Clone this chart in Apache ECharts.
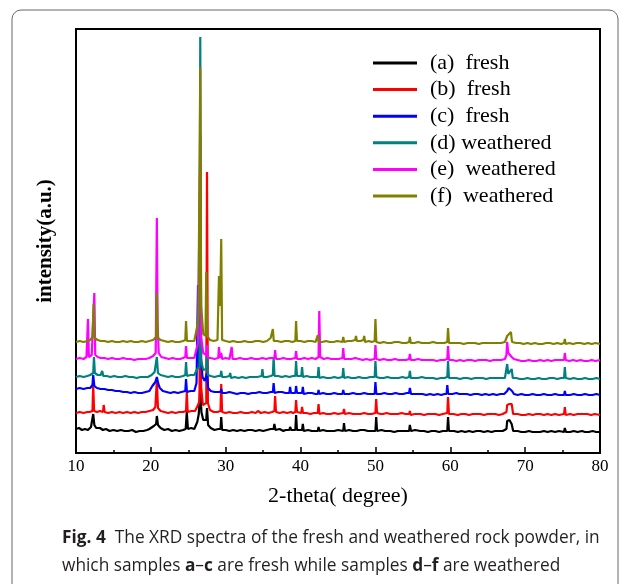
<!DOCTYPE html>
<html>
<head>
<meta charset="utf-8">
<script src="https://cdn.jsdelivr.net/npm/echarts@6/dist/echarts.min.js"></script>
<style>
  html, body { margin: 0; padding: 0; background: #fff; }
  #chart { width: 630px; height: 584px; }
</style>
</head>
<body>
<div id="chart"></div>
<script>
// sample names as shown in the legend
var names = ['(a)  fresh', '(b)  fresh', '(c)  fresh', '(d) weathered', '(e)  weathered', '(f)  weathered'];
var colors = ['#000000', '#ff0000', '#0000ff', '#008080', '#ff00ff', '#808000'];
// vertical shift of each trace (stacked spectra)
var offsets = [19, 36, 56, 72, 90, 107];
var xTicks = [10, 20, 30, 40, 50, 60, 70, 80];

// [2-theta, intensity]
var sampleA = [[10,5],[10.4,6],[10.8,4],[11.2,5],[11.6,4],[12.0,7],[12.2,9],[12.3,20],[12.45,9],[12.7,6],[13.2,6],[13.6,4],[14,5],[14.5,3],[15,4],[15.5,3],[16,4],[16.5,3],[17,3],[17.5,4],[18,2],[18.5,3],[19,3],[19.5,4],[19.8,5],[20.4,8],[20.7,10],[20.8,18],[20.95,9],[21.3,6],[21.8,4],[22.3,5],[22.8,3],[23.3,4],[23.8,3],[24.3,4],[24.65,5],[24.8,22],[24.95,5],[25.4,6],[25.8,5],[26.2,12],[26.4,20],[26.6,48],[26.75,22],[27.0,14],[27.2,12],[27.4,14],[27.5,26],[27.65,9],[28.0,6],[28.5,4],[29.0,5],[29.3,5],[29.4,17],[29.52,4],[30,4],[30.5,3],[31,4],[31.5,3],[32,4],[32.5,3],[33,4],[33.5,4],[34,3],[34.5,4],[35,3],[35.5,4],[36.0,5],[36.4,5],[36.5,10],[36.65,4],[37.2,5],[37.7,3],[38.0,4],[38.5,4],[38.6,7],[38.75,4],[39.3,4],[39.4,19],[39.52,4],[40.2,4],[40.3,10],[40.42,3],[41,4],[41.5,3],[42,3],[42.3,3],[42.4,7],[42.52,3],[43,4],[43.5,3],[44,3],[44.5,3],[45,4],[45.7,3],[45.8,11],[45.92,3],[46.5,4],[47,3],[47.5,3],[48,4],[48.5,4],[49,3],[49.5,3],[50.0,3],[50.1,17],[50.22,3],[50.8,4],[51.3,3],[52,3],[52.5,2],[53,3],[53.5,3],[54,3],[54.5,3],[54.6,9],[54.75,3],[55.3,4],[56,3],[56.5,3],[57,2],[57.5,3],[58,3],[58.5,2],[59,3],[59.6,3],[59.7,17],[59.82,3],[60.5,3],[61,2],[61.5,3],[62,2],[62.5,3],[63,2],[63.5,3],[64,3],[64.5,2],[65,3],[65.5,2],[66,3],[66.5,3],[67,3],[67.5,5],[67.6,13],[67.9,14],[68.2,10],[68.4,3],[69,3],[69.5,2],[70,2],[70.5,3],[71,2],[71.5,2],[72,2],[72.5,3],[73,2],[73.5,3],[74,2],[74.5,3],[75.2,2],[75.3,6],[75.45,2],[76,2],[76.5,3],[77,2],[77.6,3],[78,2],[78.5,2],[79,3],[79.5,2],[80,2]];
var sampleB = [[10,4],[10.5,5],[11,4],[11.5,5],[11.8,5],[12.2,6],[12.3,32],[12.42,6],[12.8,5],[13.2,6],[13.6,5],[13.7,12],[13.82,5],[14.3,4],[14.8,5],[15.3,4],[15.8,5],[16.3,4],[16.8,5],[17.3,4],[17.8,5],[18.3,4],[18.8,5],[19.3,5],[19.8,6],[20.3,7],[20.6,10],[20.8,37],[20.95,9],[21.3,6],[21.8,5],[22.3,4],[22.8,5],[23.3,4],[23.8,5],[24.3,5],[24.7,6],[24.8,25],[24.92,5],[25.4,6],[25.9,6],[26.3,12],[26.5,16],[26.6,282],[26.72,30],[26.95,12],[27.2,10],[27.4,14],[27.5,245],[27.62,14],[27.9,7],[28.4,5],[28.9,5],[29.3,6],[29.4,33],[29.52,5],[30,4],[30.5,5],[31,4],[31.5,4],[32,5],[32.5,4],[33,4],[33.5,5],[34,4],[34.3,6],[34.7,4],[35.2,5],[35.7,4],[36.2,5],[36.5,6],[36.6,21],[36.72,5],[37.2,4],[37.7,5],[38.2,4],[38.7,5],[38.8,7],[39.0,4],[39.3,5],[39.4,17],[39.52,5],[40.1,4],[40.2,10],[40.32,4],[40.8,4],[41.3,3],[41.8,4],[42.3,4],[42.4,13],[42.52,3],[43,4],[43.5,3],[44,3],[44.5,4],[45,3],[45.7,4],[45.8,8],[45.92,3],[46.5,4],[47,3],[47.5,3],[48,3],[48.5,4],[49,3],[49.5,3],[50.0,4],[50.1,18],[50.22,4],[50.7,3],[51,3],[51.5,4],[52,3],[52.5,3],[53,3],[53.5,4],[54,3],[54.5,3],[54.6,6],[54.72,2],[55.2,3],[55.7,3],[56,3],[56.5,2],[57,3],[57.5,3],[58,3],[58.5,2],[59,3],[59.6,4],[59.7,20],[59.82,3],[60.4,3],[61,2],[61.5,3],[62,3],[62.5,2],[63,3],[63.5,3],[64,3],[64.5,2],[65,3],[65.5,3],[66,3],[66.5,2],[67,3],[67.5,5],[67.6,12],[67.9,13],[68.2,13],[68.4,3],[69,3],[69.5,2],[70,2],[70.5,3],[71,2],[71.5,3],[72,3],[72.5,2],[73,3],[73.5,2],[74,3],[74.5,2],[75.2,3],[75.3,10],[75.42,2],[76,3],[76.5,2],[77,3],[77.5,3],[77.6,5],[77.72,2],[78.3,3],[78.8,2],[79.3,3],[80,2]];
var sampleC = [[10,8],[10.5,9],[11,8],[11.5,9],[11.9,9],[12.2,12],[12.3,22],[12.45,11],[12.8,9],[13.3,8],[13.8,8],[14.3,7],[14.8,7],[15.3,6],[15.8,6],[16.3,5],[16.8,5],[17.3,4],[17.8,5],[18.3,4],[18.8,4],[19.3,5],[19.8,6],[20.2,11],[20.4,13],[20.6,15],[20.8,20],[21.0,13],[21.2,9],[21.6,6],[22.1,5],[22.6,4],[23.1,5],[23.6,4],[24.1,5],[24.6,6],[24.7,18],[24.82,5],[25.3,6],[25.8,6],[26.1,14],[26.3,112],[26.45,30],[26.7,38],[26.9,20],[27.2,16],[27.5,24],[27.65,9],[28.0,6],[28.5,5],[29.0,5],[29.3,5],[29.4,8],[29.52,4],[30,4],[30.5,5],[31,4],[31.5,3],[32,4],[32.5,4],[33,3],[33.5,4],[34,4],[34.5,5],[35,4],[35.5,4],[36,5],[36.3,5],[36.4,14],[36.52,4],[37,5],[37.5,5],[38,4],[38.5,4],[38.6,10],[38.72,4],[39.3,4],[39.4,11],[39.52,4],[40.2,4],[40.3,10],[40.42,3],[41,4],[41.5,4],[42,3],[42.3,3],[42.4,7],[42.52,3],[43,4],[43.5,3],[44,3],[44.5,4],[45,3],[45.6,3],[45.7,7],[45.82,3],[46.5,3],[47,4],[47.5,3],[48,3],[48.5,4],[49,3],[49.5,3],[49.9,3],[50.0,15],[50.12,3],[50.7,3],[51.2,4],[51.7,3],[52.2,3],[52.7,4],[53.2,3],[53.7,3],[54.2,4],[54.5,4],[54.6,9],[54.75,3],[55.3,3],[55.8,3],[56.3,3],[56.8,2],[57.3,3],[57.8,2],[58.3,3],[58.8,2],[59.2,3],[59.5,3],[59.6,12],[59.72,3],[60.3,3],[60.8,4],[61.2,3],[61.7,3],[62.2,3],[62.7,2],[63.2,3],[63.7,3],[64.2,2],[64.7,3],[65.2,2],[65.7,3],[66.2,2],[66.7,3],[67.2,3],[67.6,6],[67.8,9],[68.0,11],[68.25,6],[68.5,3],[69,2],[69.5,3],[70,2],[70.5,2],[71,3],[71.5,2],[72,2],[72.5,3],[73,2],[73.5,2],[74,3],[74.5,2],[75.2,2],[75.3,6],[75.42,2],[76,2],[76.5,3],[77,2],[77.5,2],[78,3],[78.5,2],[79,2],[79.5,3],[80,2]];
var sampleD = [[10,4],[10.5,5],[11,4],[11.5,5],[11.9,6],[12.3,8],[12.4,24],[12.52,8],[12.9,6],[13.3,6],[13.5,10],[13.65,5],[14.1,5],[14.6,4],[15.1,5],[15.6,4],[16.1,4],[16.6,5],[17.1,4],[17.6,4],[18.1,3],[18.6,4],[19.1,4],[19.6,4],[20.1,6],[20.5,9],[20.8,24],[20.95,8],[21.3,6],[21.8,5],[22.3,4],[22.8,5],[23.3,4],[23.8,4],[24.3,5],[24.6,6],[24.7,19],[24.82,5],[25.3,6],[25.8,6],[26.2,12],[26.5,14],[26.6,344],[26.72,20],[27.0,11],[27.4,12],[27.5,30],[27.62,6],[28.0,5],[28.5,4],[29.0,5],[29.3,5],[29.4,10],[29.52,4],[30.0,4],[30.5,5],[30.6,8],[30.72,3],[31.2,4],[31.7,3],[32.2,4],[32.7,3],[33.2,4],[33.7,4],[34.2,4],[34.8,5],[34.9,12],[35.02,4],[35.5,4],[36.0,5],[36.3,6],[36.4,24],[36.52,5],[37.0,5],[37.5,4],[38.0,5],[38.5,4],[39.0,5],[39.3,5],[39.4,20],[39.52,5],[40.1,5],[40.2,14],[40.32,4],[40.8,5],[41.3,4],[41.8,4],[42.3,4],[42.4,14],[42.52,3],[43,4],[43.5,3],[44,3],[44.5,4],[45,3],[45.6,4],[45.7,13],[45.82,3],[46.3,4],[46.8,3],[47.3,3],[47.8,4],[48.3,3],[48.8,3],[49.3,4],[49.9,4],[50.0,20],[50.12,4],[50.6,3],[51.1,3],[51.6,4],[52.1,3],[52.6,3],[53.1,3],[53.6,4],[54.1,3],[54.5,4],[54.6,10],[54.72,3],[55.2,3],[55.7,3],[56.2,4],[56.7,3],[57.2,3],[57.7,3],[58.2,2],[58.7,3],[59.2,3],[59.6,4],[59.7,20],[59.82,3],[60.3,3],[60.8,3],[61.3,2],[61.8,3],[62.3,3],[62.8,2],[63.3,3],[63.8,3],[64.3,3],[64.8,2],[65.3,3],[65.8,3],[66.3,3],[66.8,3],[67.3,3],[67.5,5],[67.6,17],[67.75,7],[67.95,6],[68.2,12],[68.35,3],[68.8,3],[69.3,2],[69.8,2],[70.3,3],[70.8,2],[71.3,2],[71.8,3],[72.3,2],[72.8,2],[73.3,3],[73.8,3],[74.3,2],[74.8,3],[75.2,3],[75.3,14],[75.42,3],[76,2],[76.5,3],[77,2],[77.5,2],[78,3],[78.5,2],[79,2],[79.5,3],[80,2]];
var sampleE = [[10,4],[10.5,5],[11,4],[11.4,6],[11.55,7],[11.6,44],[11.72,6],[12.1,8],[12.35,9],[12.45,70],[12.57,8],[12.9,6],[13.3,5],[13.8,5],[14.3,4],[14.8,5],[15.3,4],[15.8,4],[16.3,5],[16.8,4],[17.3,4],[17.8,3],[18.3,4],[18.8,4],[19.3,4],[19.8,5],[20.3,7],[20.65,10],[20.8,145],[20.9,40],[21.05,10],[21.4,6],[21.9,5],[22.4,4],[22.9,5],[23.4,4],[23.9,4],[24.3,5],[24.6,6],[24.7,17],[24.82,5],[25.3,5],[25.8,5],[26.3,20],[26.5,22],[26.6,218],[26.72,25],[27.0,10],[27.4,8],[27.5,18],[27.62,5],[28.0,5],[28.5,4],[29.0,5],[29.1,16],[29.22,5],[29.4,10],[29.52,4],[30.0,5],[30.5,4],[30.7,5],[30.8,16],[30.92,4],[31.4,4],[31.9,5],[32.4,4],[32.9,4],[33.4,5],[33.9,4],[34.4,4],[34.9,5],[35.4,4],[35.9,5],[36.5,5],[36.6,13],[36.72,4],[37.2,4],[37.7,5],[38.2,4],[38.7,4],[39.3,5],[39.4,12],[39.52,4],[40.0,4],[40.5,5],[41.0,4],[41.5,5],[42.0,4],[42.4,6],[42.5,52],[42.62,6],[43.1,4],[43.6,5],[44.1,4],[44.6,4],[45.1,4],[45.6,5],[45.7,15],[45.82,4],[46.3,4],[46.8,4],[47.3,5],[47.8,4],[48.3,3],[48.8,4],[49.3,3],[49.9,4],[50.0,18],[50.12,4],[50.6,3],[51.1,4],[51.6,3],[52.1,3],[52.6,4],[53.1,3],[53.6,3],[54.1,3],[54.5,4],[54.6,9],[54.72,3],[55.2,3],[55.7,4],[56.2,3],[56.7,3],[57.2,3],[57.7,3],[58.2,2],[58.7,3],[59.2,3],[59.6,4],[59.7,17],[59.82,3],[60.3,3],[60.8,2],[61.3,3],[61.8,2],[62.3,3],[62.8,3],[63.3,2],[63.8,3],[64.3,3],[64.8,3],[65.3,2],[65.8,3],[66.3,3],[66.8,3],[67.3,4],[67.5,8],[67.6,21],[67.75,10],[67.95,8],[68.2,6],[68.5,4],[69,3],[69.5,2],[70,2],[70.5,3],[71,2],[71.5,2],[72,3],[72.5,2],[73,3],[73.5,2],[74,3],[74.5,3],[75.2,3],[75.3,10],[75.42,3],[75.9,2],[76.4,3],[76.9,2],[77.4,3],[77.9,2],[78.4,2],[78.9,3],[79.4,2],[80,3]];
var sampleF = [[10,4],[10.5,5],[11,4],[11.5,5],[11.9,6],[12.2,9],[12.35,42],[12.47,8],[12.9,6],[13.3,5],[13.8,5],[14.3,4],[14.8,5],[15.3,4],[15.8,4],[16.3,5],[16.8,4],[17.3,5],[17.8,4],[18.3,4],[18.8,5],[19.3,4],[19.8,5],[20.3,6],[20.7,9],[20.8,53],[20.92,8],[21.3,6],[21.8,5],[22.3,4],[22.8,5],[23.3,4],[23.8,4],[24.3,5],[24.6,6],[24.7,25],[24.82,5],[25.3,5],[25.8,5],[26.2,20],[26.35,30],[26.6,279],[26.72,40],[27.0,12],[27.3,10],[27.4,74],[27.52,10],[27.9,6],[28.4,5],[28.9,6],[29.1,70],[29.25,40],[29.4,107],[29.52,6],[30.0,5],[30.5,4],[31.0,5],[31.5,4],[32.0,4],[32.5,5],[33.0,4],[33.5,4],[34.0,5],[34.5,5],[35.0,4],[35.5,5],[36.0,8],[36.2,6],[36.3,17],[36.42,5],[36.9,5],[37.4,4],[37.9,5],[38.4,5],[38.9,4],[39.3,5],[39.4,25],[39.52,5],[40.0,5],[40.5,4],[41.0,5],[41.5,5],[42.0,4],[42.2,5],[42.3,11],[42.42,4],[42.9,4],[43.4,5],[43.9,4],[44.4,4],[44.9,5],[45.6,4],[45.7,9],[45.82,4],[46.3,5],[46.8,5],[47.3,6],[47.4,10],[47.52,5],[48.0,5],[48.4,6],[48.5,10],[48.62,4],[49.1,5],[49.5,4],[49.9,5],[50.0,27],[50.12,4],[50.6,3],[51.1,4],[51.6,3],[52.1,3],[52.6,4],[53.1,4],[53.6,3],[54.1,3],[54.5,4],[54.6,9],[54.72,3],[55.2,3],[55.7,4],[56.2,3],[56.7,3],[57.2,3],[57.7,4],[58.2,3],[58.7,3],[59.2,3],[59.6,4],[59.7,18],[59.82,3],[60.3,3],[60.8,3],[61.3,3],[61.8,2],[62.3,3],[62.8,3],[63.3,3],[63.8,2],[64.3,3],[64.8,3],[65.3,3],[65.8,3],[66.3,3],[66.8,3],[67.3,4],[67.6,10],[67.8,8],[68.1,14],[68.25,4],[68.8,3],[69.3,3],[69.8,2],[70.3,3],[70.8,2],[71.3,3],[71.8,2],[72.3,2],[72.8,3],[73.3,3],[73.8,2],[74.3,3],[74.8,2],[75.2,3],[75.3,7],[75.42,2],[75.9,3],[76.4,2],[76.9,3],[77.4,3],[77.9,2],[78.4,3],[78.9,2],[79.4,3],[80,2]];

var samples = [sampleA, sampleB, sampleC, sampleD, sampleE, sampleF];

var serif = '"Liberation Serif", "DejaVu Serif", serif';
var sans = '"Open Sans", "Noto Sans", sans-serif';

var chart = echarts.init(document.getElementById('chart'));

var series = samples.map(function(pts, i) {
    return {
        name: names[i],
        type: 'line',
        showSymbol: false,
        symbol: 'none',
        data: pts.map(function(p) { return [p[0], p[1] + offsets[i]]; }),
        lineStyle: { color: colors[i], width: 2.2 },
        itemStyle: { color: colors[i] },
        z: 2 + i
    };
});

var captionRich = { b: { fontWeight: 'bold', fontSize: 17.3, fontFamily: sans, fill: '#231f20' } };

var option = {
    animation: false,
    backgroundColor: '#fff',
    grid: {
        left: 76, right: 30, top: 29, bottom: 131,
        show: true, borderColor: '#000', borderWidth: 2
    },
    legend: {
        orient: 'vertical',
        left: 373,
        top: 52,
        padding: 0,
        itemWidth: 44,
        itemHeight: 3,
        itemGap: 4.6,
        icon: 'rect',
        data: names,
        textStyle: {
            fontFamily: serif, fontSize: 22, color: '#000',
            lineHeight: 22, padding: [0, 0, 0, 8]
        }
    },
    xAxis: {
        type: 'value',
        min: xTicks[0],
        max: xTicks[xTicks.length - 1],
        interval: 10,
        name: '2-theta( degree)',
        nameLocation: 'middle',
        nameGap: 32,
        nameTextStyle: { fontFamily: serif, fontSize: 22, color: '#000' },
        axisLine: { lineStyle: { color: '#000', width: 2 } },
        axisTick: { inside: true, length: 6, lineStyle: { color: '#000', width: 1.5 } },
        minorTick: { show: true, splitNumber: 2, length: 3, lineStyle: { color: '#000', width: 1.5 } },
        axisLabel: { fontFamily: serif, fontSize: 17, color: '#000', margin: 5 },
        splitLine: { show: false }
    },
    yAxis: {
        type: 'value',
        min: 0,
        max: 424,
        name: 'intensity(a.u.)',
        nameLocation: 'middle',
        nameGap: 20,
        nameRotate: 90,
        nameTextStyle: { fontFamily: serif, fontSize: 21, fontWeight: 'bold', color: '#000' },
        axisLine: { show: true, lineStyle: { color: '#000', width: 2 } },
        axisTick: { show: false },
        axisLabel: { show: false },
        splitLine: { show: false }
    },
    graphic: [
        {
            type: 'rect',
            shape: { x: 12, y: 10, width: 606, height: 590, r: 9 },
            style: { fill: 'none', stroke: '#666', lineWidth: 1 },
            silent: true
        },
        {
            type: 'text',
            left: 62,
            top: 530,
            style: {
                text: '{b|Fig. 4}  The XRD spectra of the fresh and weathered rock powder, in',
                font: '17.3px ' + sans,
                fill: '#231f20',
                rich: captionRich
            }
        },
        {
            type: 'text',
            left: 62,
            top: 558,
            style: {
                text: 'which samples {b|a}\u2013{b|c} are fresh while samples {b|d}\u2013{b|f} are weathered',
                font: '17.3px ' + sans,
                fill: '#231f20',
                rich: captionRich
            }
        }
    ],
    series: series
};

chart.setOption(option);
window.addEventListener('resize', function() { chart.resize(); });
</script>
</body>
</html>
